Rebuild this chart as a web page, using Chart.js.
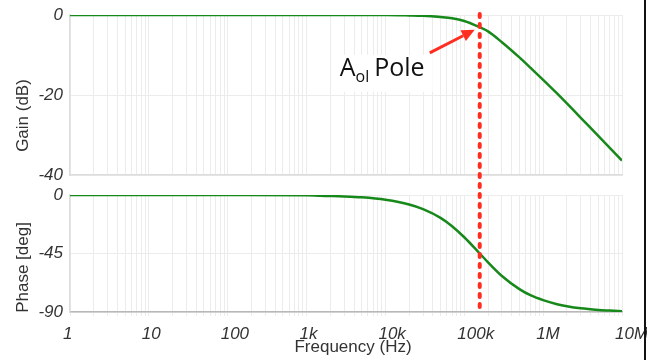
<!DOCTYPE html>
<html>
<head>
<meta charset="utf-8">
<script src="https://cdn.jsdelivr.net/npm/chart.js@4.4.1/dist/chart.umd.min.js"></script>
<style>
  html, body { margin: 0; padding: 0; background: #fff; }
  #wrap { position: relative; width: 647px; height: 360px; overflow: hidden; }
  #gainBox { position: absolute; left: 0; top: 0; width: 647px; height: 185px; }
  #phaseBox { position: absolute; left: 0; top: 185px; width: 647px; height: 175px; }
  #edge { position: absolute; left: 644px; top: 0; width: 2px; height: 360px; background: #111; }
</style>
</head>
<body>
<div id="wrap">
  <div id="gainBox"><canvas id="gainChart"></canvas></div>
  <div id="phaseBox"><canvas id="phaseChart"></canvas></div>
  <div id="edge"></div>
</div>
<script>
// ====== Datos ======
const freqs    = [1, 10, 100, 1000, 1500, 3000, 5000, 10000, 20000, 30000, 50000, 70000, 100000,
                  150000, 200000, 300000, 500000, 700000, 1000000, 1500000, 2000000, 3000000,
                  5000000, 7000000, 10000000];
const gainDb   = [0, 0, 0, 0, 0, 0, 0, 0, -0.1, -0.2, -0.5, -0.8, -1.5,
                  -2.9, -4.1, -6.8, -10.6, -13.3, -16.2, -19.6, -22.1, -25.7,
                  -30.2, -33.2, -36.4];
const phaseDeg = [0, 0, 0, -0.1, -0.6, -1.1, -1.8, -3.7, -7.3, -10.9, -17.6, -24.0, -32.5,
                  -43.7, -51.8, -62.3, -72.4, -77.3, -80.9, -84.0, -85.6, -87.2,
                  -88.4, -88.9, -89.4];
const decadeLabels = ['1', '10', '100', '1k', '10k', '100k', '1M', '10M'];
const gainTicks  = [0, -20, -40];
const phaseTicks = [0, -45, -90];
const poleFreq = 157000;
const poleGainDb = -3.7;

// ====== Estilos ======
const GREEN = '#17891a';
const RED = '#ff2d1f';
const GRID = '#ececec';
const TXT = '#333';
const SANS = '"Liberation Sans", Arial, sans-serif';
const NOTE = '"Open Sans", sans-serif';
const TICK_FONT = { family: SANS, size: 17, style: 'italic' };

const $ = (s) => document.querySelector(s);

// rejilla log: 1..9 por década
const gridTicks = [];
decadeLabels.forEach((_, k) => {
  for (let m = 1; m <= 9; m++) {
    if (k === decadeLabels.length - 1 && m > 1) break;
    gridTicks.push(m * Math.pow(10, k));
  }
});

const decadeLabel = (v) => {
  const k = Math.round(Math.log10(v));
  return Math.pow(10, k) === v ? decadeLabels[k] : '';
};

function xScale(showLabels) {
  return {
    type: 'logarithmic',
    min: 1, max: 1e7,
    afterBuildTicks: s => { s.ticks = gridTicks.map(v => ({ value: v })); },
    afterFit: s => { s.paddingLeft = 0; s.paddingRight = 0; s.height = showLabels ? 48 : 0; },
    grid: { color: GRID, lineWidth: 1, drawTicks: showLabels, tickLength: 4 },
    border: { color: showLabels ? '#b8b8b8' : '#dcdcdc', width: 1.5 },
    ticks: {
      display: showLabels, autoSkip: false, maxRotation: 0, minRotation: 0,
      align: 'start', labelOffset: -7, padding: 8,
      color: TXT, font: TICK_FONT,
      callback: decadeLabel
    }
  };
}

function yScale(ticks) {
  return {
    min: ticks[ticks.length - 1], max: ticks[0],
    afterBuildTicks: s => { s.ticks = ticks.map(v => ({ value: v })); },
    afterFit: s => { s.width = 70; s.paddingTop = 0; s.paddingBottom = 0; },
    grid: { color: GRID, drawTicks: false },
    border: { color: '#dcdcdc', width: 1.5 },
    ticks: { padding: 7, color: TXT, font: TICK_FONT }
  };
}

function series(vals) {
  return {
    data: freqs.map((f, i) => ({ x: f, y: vals[i] })),
    borderColor: GREEN,
    borderWidth: 2.5,
    pointRadius: 0,
    cubicInterpolationMode: 'monotone',
    fill: false
  };
}

// ====== Plugins ======
function poleLine(fromFn, toFn, dashOffset) {
  return {
    id: 'poleLine',
    afterDatasetsDraw(chart) {
      const { ctx, scales: { x } } = chart;
      const px = x.getPixelForValue(poleFreq);
      ctx.save();
      ctx.strokeStyle = RED;
      ctx.lineWidth = 4;
      ctx.lineCap = 'round';
      ctx.setLineDash([3, 7]);
      ctx.lineDashOffset = dashOffset;
      ctx.beginPath();
      ctx.moveTo(px, fromFn(chart));
      ctx.lineTo(px, toFn(chart));
      ctx.stroke();
      ctx.restore();
    }
  };
}

function yTitle(text, cx, cy) {
  return {
    id: 'yTitle',
    afterDraw(chart) {
      const { ctx } = chart;
      ctx.save();
      ctx.translate(cx, cy);
      ctx.rotate(-Math.PI / 2);
      ctx.font = `17px ${SANS}`;
      ctx.fillStyle = TXT;
      ctx.textAlign = 'center';
      ctx.textBaseline = 'middle';
      ctx.fillText(text, 0, 0);
      ctx.restore();
    }
  };
}

const xTitle = {
  id: 'xTitle',
  afterDraw(chart) {
    const { ctx } = chart;
    ctx.save();
    ctx.font = `17px ${SANS}`;
    ctx.fillStyle = TXT;
    ctx.textAlign = 'center';
    ctx.textBaseline = 'alphabetic';
    ctx.fillText('Frequency (Hz)', 353, 167);
    ctx.restore();
  }
};

const poleNote = {
  id: 'poleNote',
  afterDatasetsDraw(chart) {
    const { ctx, scales: { x, y } } = chart;
    const tipX = x.getPixelForValue(poleFreq) - 5;
    const tipY = y.getPixelForValue(poleGainDb);
    const tailX = tipX - 45, tailY = tipY + 23;
    const ang = Math.atan2(tipY - tailY, tipX - tailX);
    const headLen = 13, headW = 6;
    const bx = tipX - headLen * Math.cos(ang), by = tipY - headLen * Math.sin(ang);

    ctx.save();
    // flecha
    ctx.strokeStyle = RED; ctx.fillStyle = RED; ctx.lineWidth = 3;
    ctx.beginPath(); ctx.moveTo(tailX, tailY); ctx.lineTo(bx, by); ctx.stroke();
    ctx.beginPath();
    ctx.moveTo(tipX, tipY);
    ctx.lineTo(bx + headW * Math.sin(ang), by - headW * Math.cos(ang));
    ctx.lineTo(bx - headW * Math.sin(ang), by + headW * Math.cos(ang));
    ctx.closePath(); ctx.fill();

    // texto con fondo blanco
    const tx = tipX - 135, base = tipY + 46;
    ctx.fillStyle = '#fff';
    ctx.fillRect(tx - 5, base - 21, 98, 37);
    ctx.fillStyle = '#111';
    ctx.textBaseline = 'alphabetic';
    ctx.textAlign = 'left';
    ctx.font = `25px ${NOTE}`;
    ctx.fillText('A', tx, base);
    let cx = tx + ctx.measureText('A').width;
    ctx.font = `16px ${NOTE}`;
    ctx.fillText('ol', cx, base + 6);
    cx += ctx.measureText('ol').width + 5;
    ctx.font = `25px ${NOTE}`;
    ctx.fillText('Pole', cx, base);
    ctx.restore();
  }
};

// ====== Charts ======
const common = {
  responsive: true,
  maintainAspectRatio: false,
  animation: false,
  events: [],
  plugins: { legend: { display: false }, tooltip: { enabled: false } }
};

const TOP_H = 185;
const lineStart = (c) => c.chartArea.top - 1;

new Chart($('#gainChart').getContext('2d'), {
  type: 'line',
  data: { datasets: [series(gainDb)] },
  options: {
    ...common,
    layout: { padding: { left: 0, right: 25, top: 15, bottom: 10 } },
    scales: { x: xScale(false), y: yScale(gainTicks) }
  },
  plugins: [poleLine(lineStart, () => TOP_H, 0), poleNote, yTitle('Gain (dB)', 23, 115.5)]
});

new Chart($('#phaseChart').getContext('2d'), {
  type: 'line',
  data: { datasets: [series(phaseDeg)] },
  options: {
    ...common,
    layout: { padding: { left: 0, right: 25, top: 10, bottom: 0 } },
    scales: { x: xScale(true), y: yScale(phaseTicks) }
  },
  plugins: [poleLine(() => 0, c => c.chartArea.bottom, TOP_H - 14), xTitle, yTitle('Phase [deg]', 23, 82.5)]
});
</script>
</body>
</html>
